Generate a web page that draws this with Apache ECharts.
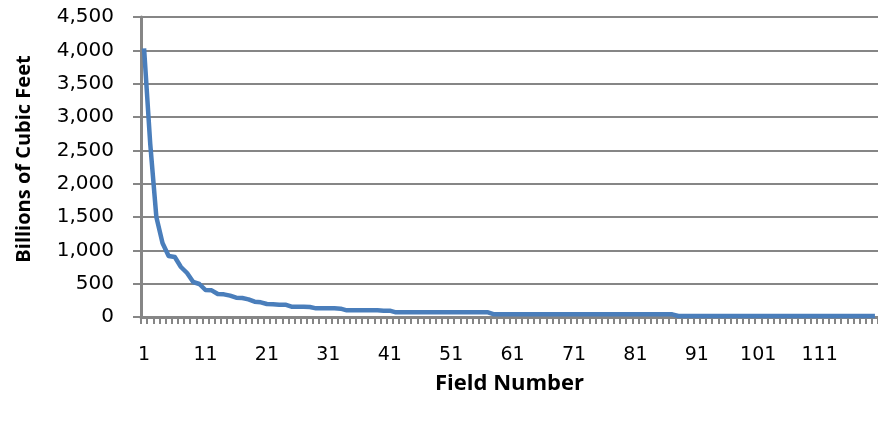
<!DOCTYPE html>
<html>
<head>
<meta charset="utf-8">
<script src="https://cdn.jsdelivr.net/npm/echarts@6/dist/echarts.min.js"></script>
<style>
  html, body { margin: 0; padding: 0; background: #ffffff; }
  #chart { width: 878px; height: 428px; }
</style>
</head>
<body>
<div id="chart"></div>
<script>
// Field numbers, ranked from largest to smallest reserve
const fieldNumbers = [];
for (let n = 1; n <= 120; n++) fieldNumbers.push(String(n));

// Reserves per field, billions of cubic feet
const reserves = [
  4030, 2600, 1500, 1110, 915, 900, 750, 660, 525, 495,
  405, 400, 345, 340, 320, 290, 285, 265, 230, 220,
  195, 190, 185, 185, 155, 155, 155, 150, 130, 130,
  130, 130, 125, 100, 100, 100, 100, 100, 100, 95,
  95, 70, 70, 70, 70, 70, 70, 70, 70, 70,
  70, 70, 70, 70, 70, 70, 70, 40, 40, 40,
  40, 40, 40, 40, 40, 40, 40, 40, 40, 40,
  40, 40, 40, 40, 40, 40, 40, 40, 40, 40,
  40, 40, 40, 40, 40, 40, 40, 15, 15, 15,
  15, 15, 15, 15, 15, 15, 15, 15, 15, 15,
  15, 15, 15, 15, 15, 15, 15, 15, 15, 15,
  15, 15, 15, 15, 15, 15, 15, 15, 15, 15
];

const yTitle = 'Billions of Cubic Feet';
const xTitle = 'Field Number';

const axisGrey = '#868686';
const numFont = 'DejaVu Sans';

const chart = echarts.init(document.getElementById('chart'), null, { renderer: 'canvas' });
chart.setOption({
  animation: false,
  backgroundColor: '#ffffff',
  grid: [
    // plotting area
    { left: 141, right: 0, top: 17, bottom: 111, containLabel: false },
    // thin strip below it that carries the field-number labels
    { left: 141, right: 0, top: 330, bottom: 85, containLabel: false }
  ],
  xAxis: [
    {
      gridIndex: 0,
      type: 'category',
      data: fieldNumbers,
      boundaryGap: true,
      name: xTitle,
      nameLocation: 'middle',
      nameGap: 56,
      nameTextStyle: { fontFamily: 'Open Sans', fontWeight: 'bold', fontSize: 22, color: '#000' },
      axisLine: { lineStyle: { color: axisGrey, width: 3 } },
      axisTick: { show: true, interval: 0, length: 7, lineStyle: { color: axisGrey, width: 2 } },
      axisLabel: { show: false },
      splitLine: { show: false }
    },
    {
      gridIndex: 1,
      type: 'category',
      data: fieldNumbers,
      boundaryGap: true,
      axisLine: { show: false },
      axisTick: { show: false },
      axisLabel: {
        interval: 9,
        margin: 3,
        fontFamily: numFont,
        fontSize: 19,
        color: '#000'
      },
      splitLine: { show: false }
    }
  ],
  yAxis: [
    {
      gridIndex: 0,
      type: 'value',
      min: 0,
      max: 4500,
      interval: 500,
      name: yTitle,
      nameLocation: 'middle',
      nameGap: 107,
      nameTextStyle: {
        fontFamily: 'Open Sans', fontWeight: 'bold', fontSize: 20, color: '#000',
        padding: [0, 0, 0, 16]
      },
      axisLine: { show: true, lineStyle: { color: axisGrey, width: 3 } },
      axisTick: { show: true, length: 8, lineStyle: { color: axisGrey, width: 2 } },
      axisLabel: {
        margin: 27,
        fontFamily: numFont,
        fontSize: 20,
        color: '#000',
        formatter: v => v.toLocaleString('en-US')
      },
      splitLine: { show: true, lineStyle: { color: axisGrey, width: 2 } }
    },
    {
      gridIndex: 1,
      type: 'value',
      show: false
    }
  ],
  series: [{
    type: 'line',
    xAxisIndex: 0,
    yAxisIndex: 0,
    data: reserves,
    showSymbol: false,
    smooth: false,
    lineStyle: { color: '#4a7ebb', width: 4.5, join: 'round' },
    itemStyle: { color: '#4a7ebb' }
  }]
});
</script>
</body>
</html>
